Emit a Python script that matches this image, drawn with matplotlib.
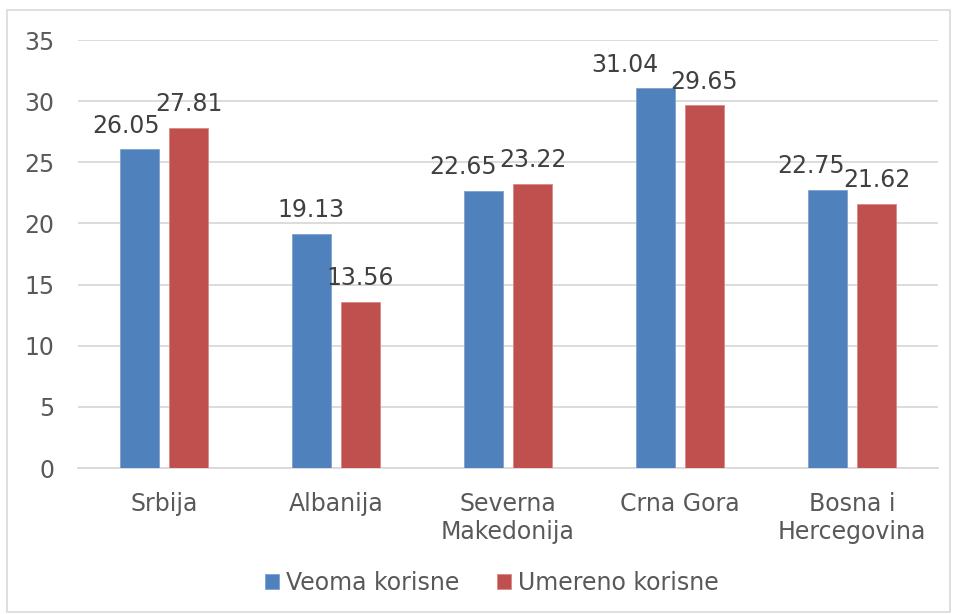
import matplotlib
matplotlib.use('Agg')
import matplotlib.pyplot as plt
from matplotlib.patches import Rectangle
import numpy as np

countries = ['Srbija', 'Albanija', 'Severna\nMakedonija', 'Crna Gora', 'Bosna i\nHercegovina']
veoma = [26.05, 19.13, 22.65, 31.04, 22.75]
umereno = [27.81, 13.56, 23.22, 29.65, 21.62]
series_names = ['Veoma korisne', 'Umereno korisne']
y_ticks = [0, 5, 10, 15, 20, 25, 30, 35]

# Excel pushed some of the blue labels left so they don't collide (points)
blue_label_shift = [-10, 0, -15, -22, -12]

blue = '#4F81BD'
red = '#C0504D'
grid_c = '#D9D9D9'
text_c = '#595959'
fs = 17

plt.rcParams['font.family'] = ['DejaVu Sans']

fig = plt.figure(figsize=(9.56, 6.14), dpi=100)
ax = fig.add_axes([78 / 956, 1 - 468 / 614, 860 / 956, 428 / 614])

x = np.arange(len(countries))
w = 0.227
off = 0.1425
b1 = ax.bar(x - off, veoma, w, color=blue, edgecolor='#7FA2D0', linewidth=0.6, zorder=3, label=series_names[0])
b2 = ax.bar(x + off, umereno, w, color=red, edgecolor='#D88A88', linewidth=0.6, zorder=3, label=series_names[1])

for bar, v, dx in zip(b1, veoma, blue_label_shift):
    ax.annotate(f'{v:.2f}', (bar.get_x() + bar.get_width() / 2, v), xytext=(dx, 8.5),
                textcoords='offset points', ha='center', va='bottom', fontsize=fs, color='#404040')
for bar, v in zip(b2, umereno):
    ax.annotate(f'{v:.2f}', (bar.get_x() + bar.get_width() / 2, v), xytext=(0, 8.5),
                textcoords='offset points', ha='center', va='bottom', fontsize=fs, color='#404040')

ax.set_xlim(-0.5, len(countries) - 0.5)
ax.set_ylim(0, 35)
ax.set_yticks(y_ticks)
ax.set_xticks(x)
ax.set_xticklabels(countries, linespacing=1.25)
ax.tick_params(axis='y', length=0, pad=17, labelsize=fs, labelcolor=text_c)
ax.tick_params(axis='x', length=0, pad=17, labelsize=fs, labelcolor=text_c)
ax.yaxis.grid(True, color=grid_c, linewidth=1.3, zorder=0)
for s in ['top', 'right', 'left']:
    ax.spines[s].set_visible(False)
ax.spines['bottom'].set_color(grid_c)
ax.spines['bottom'].set_linewidth(1.3)

leg = fig.legend(handles=[b1, b2], labels=series_names, loc='center', bbox_to_anchor=(492 / 956, 1 - 583 / 614),
                 ncol=2, frameon=False, fontsize=fs, handlelength=0.6, handleheight=0.6,
                 handletextpad=0.3, columnspacing=1.6)
for t in leg.get_texts():
    t.set_color(text_c)

fig.patches.append(Rectangle((7 / 956, 2 / 614), 943 / 956, 602 / 614, transform=fig.transFigure,
                             fill=False, edgecolor=grid_c, linewidth=1.2))

plt.savefig('out.png', dpi=100)
plt.close()
